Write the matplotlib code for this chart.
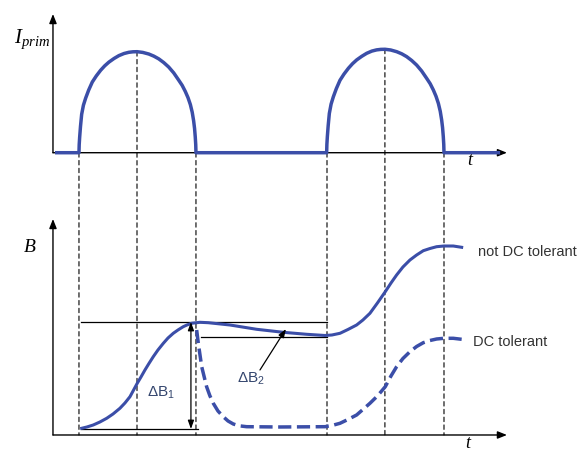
import matplotlib
matplotlib.use("Agg")
import matplotlib.pyplot as plt
from matplotlib.patches import ConnectionPatch

plt.rcParams['mathtext.fontset'] = 'custom'
plt.rcParams['mathtext.it'] = 'Liberation Serif:italic'
plt.rcParams['mathtext.rm'] = 'Liberation Sans'
plt.rcParams['font.family'] = ['Liberation Sans', 'DejaVu Sans']

BLUE = '#3B4EA8'
LABEL_BLUE = '#34466E'

# ---------------- data (time in arbitrary units, 10 = one half-wave) -------------
t_prim = [-2.05, 0.0,
          0.0, 0.02, 0.06, 0.13, 0.23, 0.38, 0.57, 0.83, 1.14, 1.48, 1.85, 2.2, 2.56,
          3.0, 3.41, 3.85, 4.26, 4.62, 4.97, 5.45, 5.97, 6.4, 6.82, 7.25, 7.67, 8.1,
          8.52, 8.82, 9.09, 9.32, 9.52, 9.68, 9.8, 9.88, 9.94, 9.98, 10.0,
          21.17, 21.19, 21.23, 21.3, 21.4, 21.55, 21.74, 22.0, 22.31, 22.65, 23.03,
          23.38, 23.74, 24.18, 24.59, 25.03, 25.44, 25.8, 26.16, 26.64, 27.16, 27.59,
          28.01, 28.44, 28.86, 29.29, 29.72, 30.02, 30.29, 30.52, 30.72, 30.88, 31.0,
          31.08, 31.14, 31.18, 31.2,
          36.0]
i_prim = [0.0, 0.0,
          0.0, 0.08, 0.155, 0.26, 0.38, 0.47, 0.54, 0.62, 0.70, 0.76, 0.816, 0.86, 0.897,
          0.933, 0.961, 0.982, 0.994, 0.999, 1.0, 0.993, 0.977, 0.956, 0.929, 0.892,
          0.848, 0.79, 0.719, 0.667, 0.606, 0.545, 0.477, 0.40, 0.316, 0.24, 0.155,
          0.08, 0.0,
          0.0, 0.082, 0.159, 0.266, 0.389, 0.481, 0.553, 0.635, 0.717, 0.778, 0.836,
          0.881, 0.919, 0.955, 0.984, 1.006, 1.018, 1.023, 1.024, 1.017, 1.0, 0.979,
          0.951, 0.913, 0.868, 0.809, 0.736, 0.683, 0.621, 0.558, 0.488, 0.41, 0.324,
          0.246, 0.159, 0.082, 0.0,
          0.0]

# time marks (pulse edges and peaks) and the current level where each dashed line starts
t_marks = [0.0, 4.96, 10.0, 21.2, 26.15, 31.2]
mark_top = [0.0, 1.0, 0.0, 0.0, 1.024, 0.0]

t_not_tol = [0.23, 0.68, 1.22, 1.79, 2.37, 2.91, 3.50, 3.93, 4.36, 4.98, 5.30, 5.64,
             5.98, 6.35, 6.75, 7.21, 7.61, 8.06, 8.46, 8.91, 9.23, 9.63, 10.34, 11.05,
             12.91, 15.19, 17.46, 19.46, 21.03, 21.62, 22.31, 22.99, 23.73, 24.27,
             24.87, 25.51, 26.18, 26.67, 27.15, 27.69, 28.29, 28.86, 29.43, 30.0,
             30.57, 31.2, 31.99, 32.71]
b_not_tol = [0.067, 0.08, 0.10, 0.13, 0.167, 0.21, 0.267, 0.32, 0.383, 0.517, 0.58, 0.65,
             0.715, 0.783, 0.85, 0.917, 0.97, 1.017, 1.05, 1.083, 1.10, 1.117, 1.127, 1.123,
             1.10, 1.057, 1.027, 1.007, 0.995, 1.0, 1.017, 1.055, 1.10, 1.15,
             1.217, 1.32, 1.433, 1.52, 1.60, 1.68, 1.75, 1.80, 1.843, 1.865,
             1.883, 1.89, 1.89, 1.877]

t_tol = [10.06, 10.20, 10.49, 10.91, 11.18, 11.48, 11.88, 12.33, 12.74, 13.19, 13.68,
         14.33, 17.18, 21.03, 21.62, 22.31, 22.99, 23.73, 24.27, 24.87, 25.51, 26.18,
         26.67, 27.15, 27.69, 28.29, 28.86, 29.43, 30.0, 30.57, 31.2, 31.99, 32.71]
b_tol = [1.05, 0.917, 0.683, 0.483, 0.395, 0.317, 0.24, 0.183, 0.14, 0.11, 0.092,
         0.083, 0.08, 0.083, 0.095, 0.117, 0.155, 0.20, 0.255, 0.317, 0.39, 0.483,
         0.59, 0.683, 0.765, 0.833, 0.885, 0.923, 0.945, 0.96, 0.967, 0.967, 0.957]

# reference levels
b_high = 1.13      # top of first rise
b_low = 0.06       # start level
b_dip = 0.98       # level after decay
t_ref_start = 0.17
t_ref_mid = 10.17
t_ref_mid2 = 10.43
t_ref_end = 21.2

dB1_t = 9.57
dB2_from = (15.47, 0.65)
dB2_to = (17.69, 1.06)

XLIM = (-2.222, 36.581)

# ---------------- figure ----------------
fig = plt.figure(figsize=(5.86, 4.51), dpi=100)
ax1 = fig.add_axes([0.0904, 0.6614, 0.7747, 0.3075])
ax2 = fig.add_axes([0.0904, 0.0355, 0.7747, 0.4789])
ax1.set_xlim(*XLIM); ax1.set_ylim(0, 1.373)
ax2.set_xlim(*XLIM); ax2.set_ylim(0, 2.16)
for ax in (ax1, ax2):
    ax.axis('off')
    ax.patch.set_visible(False)

axis_arrow = dict(arrowstyle='-|>,head_length=0.55,head_width=0.22', color='black',
                  lw=1.0, mutation_scale=10, shrinkA=0, shrinkB=0)
# axes with arrows
for ax in (ax1, ax2):
    y0, y1 = ax.get_ylim()
    ax.annotate('', xy=(XLIM[1], 0), xytext=(XLIM[0], 0), arrowprops=axis_arrow,
                annotation_clip=False)
    ax.annotate('', xy=(XLIM[0], y1), xytext=(XLIM[0], 0), arrowprops=axis_arrow,
                annotation_clip=False)

# current waveform
ax1.plot(t_prim, i_prim, color=BLUE, lw=2.5, clip_on=False, solid_joinstyle='round',
         solid_capstyle='butt', zorder=3)

# dashed guide lines
for tm, top in zip(t_marks, mark_top):
    con = ConnectionPatch(xyA=(tm, top), coordsA=ax1.transData,
                          xyB=(tm, 0), coordsB=ax2.transData,
                          color='black', lw=0.8, linestyle=(0, (4, 3)), zorder=-1)
    fig.add_artist(con)

# reference horizontal lines
ax2.plot([t_ref_start, t_ref_end], [b_high, b_high], color='black', lw=0.9, zorder=2)
ax2.plot([t_ref_start, t_ref_mid], [b_low, b_low], color='black', lw=0.9, zorder=2)
ax2.plot([t_ref_mid2, t_ref_end], [b_dip, b_dip], color='black', lw=0.9, zorder=2)

# flux curves
ax2.plot(t_not_tol, b_not_tol, color=BLUE, lw=2.2, solid_joinstyle='round', zorder=3)
ax2.plot(t_tol, b_tol, color=BLUE, lw=2.5, linestyle=(0, (3.8, 1.6)), zorder=3)

# delta B arrows
ax2.annotate('', xy=(dB1_t, b_low), xytext=(dB1_t, b_high),
             arrowprops=dict(arrowstyle='<|-|>,head_length=0.5,head_width=0.18',
                             color='black', lw=0.9, mutation_scale=10,
                             shrinkA=0, shrinkB=0))
ax2.annotate('', xy=dB2_to, xytext=dB2_from,
             arrowprops=dict(arrowstyle='-|>,head_length=0.5,head_width=0.18',
                             color='black', lw=0.9, mutation_scale=10,
                             shrinkA=0, shrinkB=0))

# texts
ax1.text(-2.48, 1.086, r'$I_{prim}$', fontsize=15, ha='right', va='baseline', clip_on=False)
ax1.text(33.43, -0.082, 't', fontsize=13, fontfamily='Liberation Serif', style='italic',
         ha='center', va='center', clip_on=False)
ax2.text(33.2, -0.085, 't', fontsize=13, fontfamily='Liberation Serif', style='italic',
         ha='center', va='center', clip_on=False)
ax2.text(-4.19, 1.88, 'B', fontsize=14, fontfamily='Liberation Serif', style='italic',
         ha='center', va='center', clip_on=False)

ax2.text(34.1, 1.83, 'not DC tolerant', fontsize=10.5, color='#333333',
         ha='left', va='center', clip_on=False)
ax2.text(33.7, 0.93, 'DC tolerant', fontsize=10.5, color='#333333',
         ha='left', va='center', clip_on=False)

ax2.text(5.81, 0.42, r'$\mathrm{\Delta B}_{\mathrm{1}}$', fontsize=11, color=LABEL_BLUE,
         ha='left', va='center')
ax2.text(13.5, 0.56, r'$\mathrm{\Delta B}_{\mathrm{2}}$', fontsize=11, color=LABEL_BLUE,
         ha='left', va='center')

fig.savefig('out.png', dpi=100)
